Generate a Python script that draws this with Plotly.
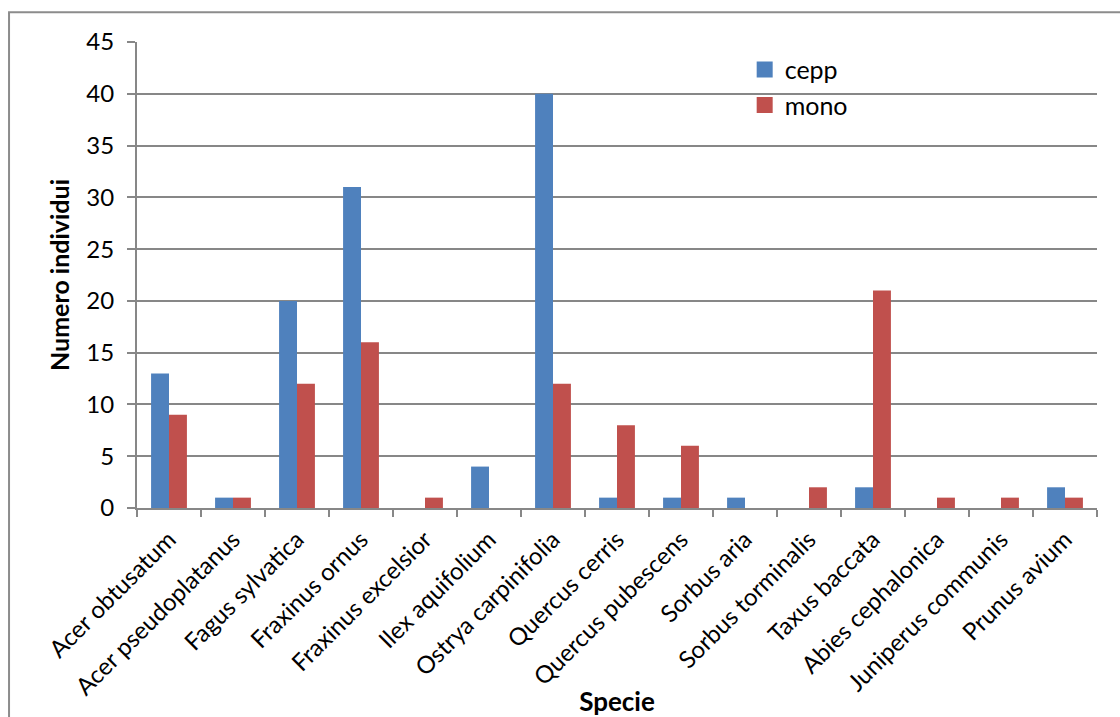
import plotly.graph_objects as go

species = [
    "Acer obtusatum", "Acer pseudoplatanus", "Fagus sylvatica", "Fraxinus ornus",
    "Fraxinus excelsior", "Ilex aquifolium", "Ostrya carpinifolia", "Quercus cerris",
    "Quercus pubescens", "Sorbus aria", "Sorbus torminalis", "Taxus baccata",
    "Abies cephalonica", "Juniperus communis", "Prunus avium",
]
cepp = [13, 1, 20, 31, 0, 4, 40, 1, 1, 1, 0, 2, 0, 0, 2]
mono = [9, 1, 12, 16, 1, 0, 12, 8, 6, 0, 2, 21, 1, 1, 1]
y_ticks = [0, 5, 10, 15, 20, 25, 30, 35, 40, 45]

FONT = "Lato, Carlito, Calibri, sans-serif"
GRID = "#878787"
BLUE = "#4F81BD"
RED = "#C0504D"

fig = go.Figure()
fig.add_trace(go.Bar(
    name="cepp", x=species, y=cepp, showlegend=False,
    marker=dict(color=BLUE, line=dict(width=0)),
))
fig.add_trace(go.Bar(
    name="mono", x=species, y=mono, showlegend=False,
    marker=dict(color=RED, line=dict(width=0)),
))
# legend entries with square swatches
for name, col in (("cepp", BLUE), ("mono", RED)):
    fig.add_trace(go.Scatter(
        name=name, x=[None], y=[None], mode="markers",
        marker=dict(symbol="square", size=16, color=col),
    ))

fig.update_layout(
    width=1120, height=717,
    margin=dict(l=137, r=23, t=42, b=209),
    paper_bgcolor="white", plot_bgcolor="white",
    barmode="group", bargap=0.44, bargroupgap=0,
    font=dict(family=FONT, color="black", size=23),
    showlegend=True,
    legend=dict(
        x=0.633, y=0.99, xanchor="left", yanchor="top",
        font=dict(size=25, family=FONT), bgcolor="rgba(0,0,0,0)",
        itemwidth=30, tracegroupgap=0,
    ),
    xaxis=dict(
        tickangle=-45, showline=True, linecolor=GRID, linewidth=2,
        ticks="outside", ticklen=7, tickcolor=GRID, tickwidth=2,
        tickson="boundaries", showgrid=False, automargin=False,
        tickfont=dict(size=24, family=FONT), ticklabelstandoff=6,
        title=dict(text="<b>Specie</b>", font=dict(size=26, family=FONT), standoff=0),
    ),
    yaxis=dict(
        range=[0, 45], tickvals=y_ticks, showline=True, linecolor=GRID, linewidth=2,
        ticks="outside", ticklen=8, tickcolor=GRID, tickwidth=2,
        showgrid=True, gridcolor=GRID, gridwidth=2, zeroline=False, automargin=False,
        tickfont=dict(size=24, family=FONT), ticklabelstandoff=8,
        title=dict(text="<b>Numero individui</b>", font=dict(size=25, family=FONT), standoff=10),
    ),
    shapes=[dict(
        type="rect", xref="paper", yref="paper",
        x0=-0.1333, x1=1.05, y0=-0.5, y1=1.064,
        line=dict(color="#8C8C8C", width=2), fillcolor="rgba(0,0,0,0)", layer="below",
    )],
)

fig.write_html("out.html")
